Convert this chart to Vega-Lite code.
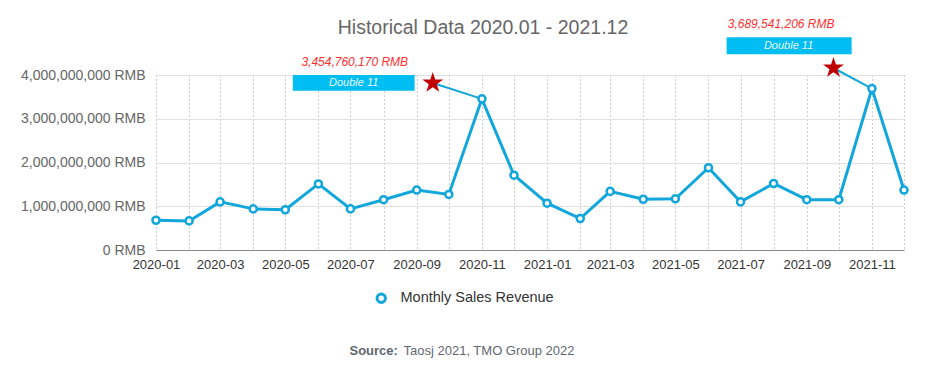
{
  "$schema": "https://vega.github.io/schema/vega-lite/v6.json",
  "width": 748,
  "height": 175,
  "autosize": {"type": "none"},
  "padding": {"left": 156, "top": 75, "right": 48, "bottom": 122},
  "background": "white",
  "config": {"font": "Liberation Sans", "view": {"stroke": null}},
  "title": {
    "text": "Historical Data 2020.01 - 2021.12",
    "anchor": "middle",
    "frame": "group",
    "dx": -47,
    "offset": -36,
    "fontSize": 19.5,
    "fontWeight": "normal",
    "color": "#666666",
    "baseline": "alphabetic"
  },
  "datasets": {
    "sales": [
      {"date": "2020-01-01", "value": 680000000, "series": "Monthly Sales Revenue"},
      {"date": "2020-02-01", "value": 665000000, "series": "Monthly Sales Revenue"},
      {"date": "2020-03-01", "value": 1100000000, "series": "Monthly Sales Revenue"},
      {"date": "2020-04-01", "value": 940000000, "series": "Monthly Sales Revenue"},
      {"date": "2020-05-01", "value": 920000000, "series": "Monthly Sales Revenue"},
      {"date": "2020-06-01", "value": 1510000000, "series": "Monthly Sales Revenue"},
      {"date": "2020-07-01", "value": 940000000, "series": "Monthly Sales Revenue"},
      {"date": "2020-08-01", "value": 1150000000, "series": "Monthly Sales Revenue"},
      {"date": "2020-09-01", "value": 1370000000, "series": "Monthly Sales Revenue"},
      {"date": "2020-10-01", "value": 1270000000, "series": "Monthly Sales Revenue"},
      {"date": "2020-11-01", "value": 3454760170, "series": "Monthly Sales Revenue"},
      {"date": "2020-12-01", "value": 1710000000, "series": "Monthly Sales Revenue"},
      {"date": "2021-01-01", "value": 1070000000, "series": "Monthly Sales Revenue"},
      {"date": "2021-02-01", "value": 720000000, "series": "Monthly Sales Revenue"},
      {"date": "2021-03-01", "value": 1340000000, "series": "Monthly Sales Revenue"},
      {"date": "2021-04-01", "value": 1160000000, "series": "Monthly Sales Revenue"},
      {"date": "2021-05-01", "value": 1170000000, "series": "Monthly Sales Revenue"},
      {"date": "2021-06-01", "value": 1880000000, "series": "Monthly Sales Revenue"},
      {"date": "2021-07-01", "value": 1100000000, "series": "Monthly Sales Revenue"},
      {"date": "2021-08-01", "value": 1520000000, "series": "Monthly Sales Revenue"},
      {"date": "2021-09-01", "value": 1150000000, "series": "Monthly Sales Revenue"},
      {"date": "2021-10-01", "value": 1150000000, "series": "Monthly Sales Revenue"},
      {"date": "2021-11-01", "value": 3689541206, "series": "Monthly Sales Revenue"},
      {"date": "2021-12-01", "value": 1370000000, "series": "Monthly Sales Revenue"}
    ],
    "boxes": [
      {"date": "2020-05-08", "date2": "2020-08-30", "value": 3641000000, "value2": 4000000000},
      {"date": "2021-06-18", "date2": "2021-10-13", "value": 4473000000, "value2": 4862000000}
    ],
    "boxtext": [
      {"date": "2020-07-04", "value": 3820000000, "label": "Double 11"},
      {"date": "2021-08-15", "value": 4663000000, "label": "Double 11"}
    ],
    "stars": [
      {"date": "2020-09-16", "value": 3817000000},
      {"date": "2021-09-26", "value": 4160000000}
    ],
    "links": [
      {"date": "2020-09-16", "value": 3817000000, "date2": "2020-11-01", "value2": 3454760170},
      {"date": "2021-09-26", "value": 4160000000, "date2": "2021-11-01", "value2": 3689541206}
    ],
    "labels": [
      {"date": "2020-07-05", "value": 4290000000, "label": "3,454,760,170 RMB"},
      {"date": "2021-08-08", "value": 5166000000, "label": "3,689,541,206 RMB"}
    ]
  },
  "encoding": {
    "x": {
      "field": "date",
      "type": "temporal",
      "title": "Source:",
      "scale": {"type": "utc", "domain": [{"year": 2020, "month": 1, "date": 1, "utc": true}, {"year": 2021, "month": 12, "date": 1, "utc": true}], "nice": false},
      "axis": {
        "format": "%Y-%m",
        "tickCount": {"interval": "month", "step": 1},
        "labelExpr": "utcmonth(datum.value) % 2 == 0 ? datum.label : ''",
        "labelFlush": false,
        "labelOverlap": false,
        "grid": true,
        "gridDash": [1, 3],
        "gridColor": "#999999",
        "ticks": false,
        "domainColor": "#888888",
        "labelFontSize": 13,
        "labelColor": "#333333",
        "labelPadding": 8,
        "titleFontWeight": "bold",
        "titleFontSize": 13,
        "titleColor": "#5f6870",
        "titleX": 193,
        "titleY": 104,
        "titleAlign": "left",
        "titleBaseline": "alphabetic"
      }
    },
    "y": {
      "field": "value",
      "type": "quantitative",
      "title": "Taosj 2021, TMO Group 2022",
      "scale": {"domain": [0, 4000000000], "nice": false},
      "axis": {
        "values": [0, 1000000000, 2000000000, 3000000000, 4000000000],
        "labelExpr": "format(datum.value, ',') + ' RMB'",
        "domain": false,
        "ticks": false,
        "grid": true,
        "gridColor": "#e0e0e0",
        "labelFontSize": 14,
        "labelColor": "#666666",
        "labelPadding": 11,
        "titleAngle": 0,
        "titleX": 247,
        "titleY": 279,
        "titleAlign": "left",
        "titleBaseline": "alphabetic",
        "titleFontWeight": "normal",
        "titleFontSize": 13,
        "titleColor": "#5f6870"
      }
    }
  },
  "layer": [
    {
      "data": {"name": "boxes"},
      "mark": {"type": "rect", "color": "#00bdf2"},
      "encoding": {"x2": {"field": "date2"}, "y2": {"field": "value2"}}
    },
    {
      "data": {"name": "boxtext"},
      "mark": {"type": "text", "fontSize": 11, "fontStyle": "italic", "color": "#e6f7ff", "baseline": "middle", "align": "center"},
      "encoding": {"text": {"field": "label"}}
    },
    {
      "data": {"name": "links"},
      "mark": {"type": "rule", "color": "#11a6dc", "strokeWidth": 2},
      "encoding": {"x2": {"field": "date2"}, "y2": {"field": "value2"}}
    },
    {
      "data": {"name": "sales"},
      "mark": {"type": "line", "color": "#11a6dc", "strokeWidth": 3},
      "encoding": {}
    },
    {
      "data": {"name": "sales"},
      "mark": {"type": "point", "filled": false, "fill": "white", "size": 50, "strokeWidth": 2.5, "opacity": 1},
      "encoding": {
        "color": {
          "field": "series",
          "type": "nominal",
          "scale": {"range": ["#11a6dc"]},
          "legend": {"orient": "none", "legendX": 218, "legendY": 216, "title": null, "labelFontSize": 14.5, "labelOffset": 12, "labelColor": "#333333", "symbolStrokeWidth": 3, "symbolSize": 70, "symbolType": "circle"}
        }
      }
    },
    {
      "data": {"name": "stars"},
      "mark": {"type": "point", "shape": "M0,-1L0.2245,-0.309L0.951,-0.309L0.363,0.118L0.588,0.809L0,0.382L-0.588,0.809L-0.363,0.118L-0.951,-0.309L-0.2245,-0.309Z", "filled": true, "color": "#c00000", "size": 480, "opacity": 1},
      "encoding": {}
    },
    {
      "data": {"name": "labels"},
      "mark": {"type": "text", "fontSize": 12, "fontStyle": "italic", "color": "#ff3030", "baseline": "middle", "align": "center"},
      "encoding": {"text": {"field": "label"}}
    }
  ]
}
